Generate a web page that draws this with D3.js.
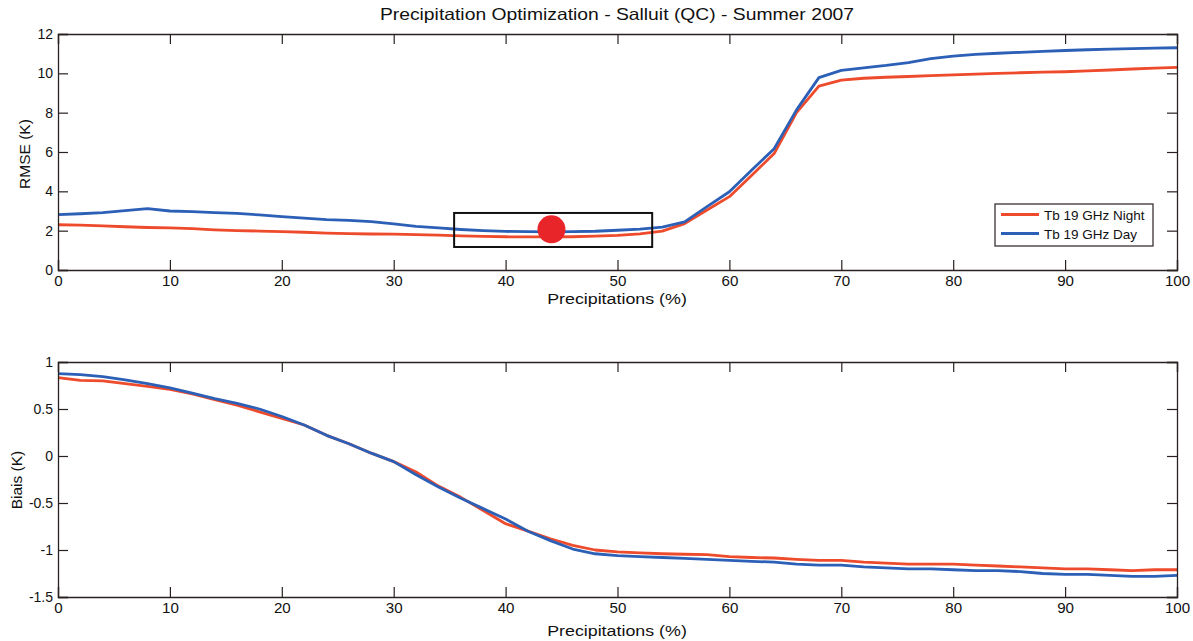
<!DOCTYPE html>
<html><head><meta charset="utf-8">
<script src="https://cdn.jsdelivr.net/npm/d3@7"></script>
<style>
body{margin:0;background:#fff;}
svg{display:block;font-family:"Liberation Sans",Arial,sans-serif;}
</style></head>
<body><svg id="c" width="1193" height="641"></svg>
<script>
const xPct = d3.range(0, 101, 2);
const rmseNight = [2.3,2.28,2.24,2.2,2.16,2.14,2.1,2.04,2.0,1.98,1.95,1.92,1.88,1.85,1.83,1.82,1.8,1.77,1.74,1.71,1.69,1.68,1.68,1.69,1.72,1.76,1.84,1.98,2.36,3.05,3.73,4.82,5.92,8.0,9.35,9.65,9.75,9.8,9.84,9.88,9.92,9.96,10.0,10.03,10.06,10.08,10.12,10.17,10.22,10.26,10.3];
const rmseDay = [2.82,2.86,2.92,3.02,3.12,3.0,2.97,2.92,2.88,2.8,2.71,2.64,2.56,2.52,2.46,2.35,2.22,2.14,2.06,2.0,1.96,1.95,1.94,1.95,1.97,2.02,2.08,2.18,2.45,3.22,3.98,5.08,6.17,8.14,9.78,10.15,10.28,10.4,10.55,10.75,10.87,10.96,11.02,11.07,11.12,11.16,11.2,11.23,11.26,11.28,11.3];
const biasNight = [0.834,0.805,0.8,0.77,0.74,0.71,0.66,0.6,0.54,0.47,0.4,0.33,0.22,0.13,0.03,-0.06,-0.17,-0.32,-0.44,-0.58,-0.72,-0.8,-0.88,-0.95,-1.0,-1.02,-1.03,-1.04,-1.045,-1.05,-1.07,-1.08,-1.085,-1.1,-1.11,-1.11,-1.13,-1.14,-1.15,-1.15,-1.15,-1.16,-1.17,-1.18,-1.19,-1.2,-1.2,-1.21,-1.22,-1.21,-1.21];
const biasDay = [0.877,0.865,0.845,0.81,0.77,0.725,0.67,0.61,0.56,0.5,0.42,0.33,0.22,0.13,0.03,-0.06,-0.2,-0.33,-0.45,-0.56,-0.67,-0.8,-0.9,-0.99,-1.04,-1.06,-1.07,-1.08,-1.09,-1.1,-1.11,-1.12,-1.13,-1.15,-1.16,-1.16,-1.18,-1.19,-1.2,-1.2,-1.21,-1.22,-1.22,-1.23,-1.25,-1.26,-1.26,-1.27,-1.28,-1.28,-1.27];
const xTicks = [0,10,20,30,40,50,60,70,80,90,100];
const rmseTicks = [0,2,4,6,8,10,12];
const biasTicks = [-1.5,-1,-0.5,0,0.5,1];
const seriesNames = ["Tb 19 GHz Night","Tb 19 GHz Day"];
const optimumBox = [35.4, 53.1, 1.17, 2.9];
const optimumPoint = [44.1, 2.07];

const colNight = "#ee4a2c", colDay = "#2c5fb6", axisCol = "#2a2020";
const svg = d3.select("#c");
const L = 58, R = 1177;
const x = d3.scaleLinear().domain([0,100]).range([L,R]);
const yTop = d3.scaleLinear().domain([0,12]).range([270,34]);
const yBot = d3.scaleLinear().domain([-1.5,1]).range([597,362]);
const FONT = "'Liberation Sans',Arial,sans-serif";

function stretch(sel, k) {
  sel.each(function(){
    const len = this.getComputedTextLength();
    d3.select(this).attr("textLength", len*k).attr("lengthAdjust","spacingAndGlyphs");
  });
}

const title = svg.append("text").attr("x",617).attr("y",19.5).attr("text-anchor","middle")
  .attr("font-size",16.5).attr("fill","#111").text("Precipitation Optimization - Salluit (QC) - Summer 2007");
stretch(title, 1.17);

function panel(y, yt, fmt, ylabel, ylabelX, ylabelY, xlabelY, series) {
  const g = svg.append("g");
  const [y0,y1] = y.range();
  const line = d3.line().x((d,i)=>x(xPct[i])).y(d=>y(d));
  series.forEach(s=>{
    g.append("path").datum(s.v).attr("d",line).attr("fill","none")
      .attr("stroke",s.c).attr("stroke-width",2.8).attr("stroke-linejoin","round");
  });
  const ax = g.append("g");
  const bx = ax.append("g").attr("transform",`translate(0,${y0})`)
    .call(d3.axisBottom(x).tickValues(xTicks).tickSize(-10).tickPadding(6).tickFormat(d3.format("d")));
  ax.append("g").attr("transform",`translate(0,${y1})`)
    .call(d3.axisTop(x).tickValues(xTicks).tickSize(-10).tickFormat(""));
  ax.append("g").attr("transform",`translate(${L},0)`)
    .call(d3.axisLeft(y).tickValues(yt).tickSize(-10).tickPadding(5).tickFormat(fmt));
  ax.append("g").attr("transform",`translate(${R},0)`)
    .call(d3.axisRight(y).tickValues(yt).tickSize(-10).tickFormat(""));
  ax.selectAll("g").attr("font-size",14).attr("font-family",FONT);
  ax.selectAll(".domain").attr("stroke",axisCol).attr("stroke-width",1.3);
  ax.selectAll(".tick line").attr("stroke",axisCol).attr("stroke-width",1.2);
  ax.selectAll(".tick text").attr("font-size",14).attr("fill","#111").attr("font-family",FONT);
  stretch(bx.selectAll(".tick text"), 1.08);
  const xl = svg.append("text").attr("x",617).attr("y",xlabelY).attr("text-anchor","middle")
    .attr("font-size",15.5).attr("fill","#111").text("Precipitations (%)");
  stretch(xl, 1.15);
  svg.append("text").attr("transform",`translate(${ylabelX},${ylabelY}) rotate(-90)`)
    .attr("text-anchor","middle").attr("font-size",15.5).attr("fill","#111").text(ylabel);
  return g;
}

panel(yTop, rmseTicks, d3.format("d"), "RMSE (K)", 30, 154, 303.5,
  [{v:rmseNight,c:colNight},{v:rmseDay,c:colDay}]);
panel(yBot, biasTicks, d=>d===0?"0":String(d), "Biais (K)", 21.5, 480, 636,
  [{v:biasNight,c:colNight},{v:biasDay,c:colDay}]);

svg.append("rect").attr("x",x(optimumBox[0])).attr("y",yTop(optimumBox[3]))
  .attr("width",x(optimumBox[1])-x(optimumBox[0])).attr("height",yTop(optimumBox[2])-yTop(optimumBox[3]))
  .attr("fill","none").attr("stroke","#111").attr("stroke-width",2);
svg.append("circle").attr("cx",x(optimumPoint[0])).attr("cy",yTop(optimumPoint[1])).attr("r",14)
  .attr("fill","#e8262a");

const lg = svg.append("g");
lg.append("rect").attr("x",995).attr("y",204).attr("width",158).attr("height",42)
  .attr("fill","#fff").attr("stroke",axisCol).attr("stroke-width",1.2);
[colNight,colDay].forEach((c,i)=>{
  const yy = 214.5 + i*19;
  lg.append("line").attr("x1",1001).attr("x2",1039).attr("y1",yy).attr("y2",yy)
    .attr("stroke",c).attr("stroke-width",2.8);
  const t = lg.append("text").attr("x",1044).attr("y",yy+5).attr("font-size",13.5).attr("fill","#111").text(seriesNames[i]);
  stretch(t, 1.0);
});
</script></body></html>
